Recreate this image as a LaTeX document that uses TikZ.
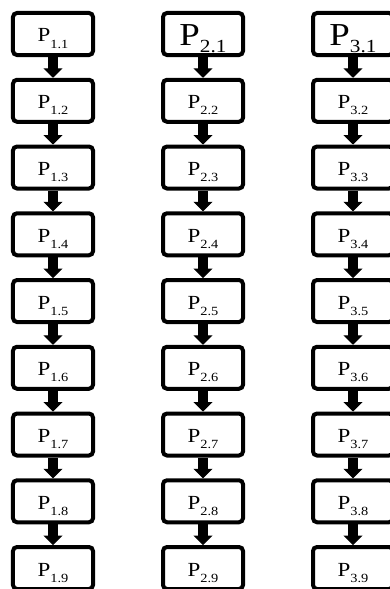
\documentclass[tikz,border=0pt]{standalone}
\usepackage{fontspec}
\setmainfont[FakeStretch=1.15]{Liberation Serif}
\usetikzlibrary{arrows.meta,positioning}
\newcommand{\psub}[1]{{\fontsize{12.5pt}{12.5pt}\selectfont\raisebox{-6pt}{#1}}}
\newcommand{\pbigsub}[1]{{\fontsize{18.5pt}{18.5pt}\selectfont\raisebox{-8pt}{#1}}}
\tikzset{
    %Define style for boxes
    pbox/.style={
      rectangle,
      rounded corners=4pt,
      draw=black, line width=4pt,
      minimum width=80pt,
      minimum height=42pt,
      inner sep=0pt,
      text height=22pt, text depth=6pt,
      font=\fontsize{20pt}{24pt}\selectfont},
    %Define style for the larger labels
    pbig/.style={
      text height=30pt, text depth=8pt,
      font=\fontsize{32pt}{36pt}\selectfont},
    % Define arrow style (tip at the start, edges go upwards)
    arr/.style={
      {Triangle[width=19pt,length=9.5pt,line width=1pt]}-,
      line width=10pt}
}
\begin{document}
\begin{tikzpicture}[node distance=20.75pt and 66pt]
    \useasboundingbox (-53pt,34pt) rectangle (336pt,-555pt);
    % first column
    \node[pbox] (p11) {P\psub{1.1}};
    \node[pbox, below=of p11] (p12) {P\psub{1.2}}
    edge[arr] (p11);
    \node[pbox, below=of p12] (p13) {P\psub{1.3}}
    edge[arr] (p12);
    \node[pbox, below=of p13] (p14) {P\psub{1.4}}
    edge[arr] (p13);
    \node[pbox, below=of p14] (p15) {P\psub{1.5}}
    edge[arr] (p14);
    \node[pbox, below=of p15] (p16) {P\psub{1.6}}
    edge[arr] (p15);
    \node[pbox, below=of p16] (p17) {P\psub{1.7}}
    edge[arr] (p16);
    \node[pbox, below=of p17] (p18) {P\psub{1.8}}
    edge[arr] (p17);
    \node[pbox, below=of p18] (p19) {P\psub{1.9}}
    edge[arr] (p18);
    % second column
    \node[pbox, pbig, right=of p11] (p21) {P\pbigsub{2.1}};
    \node[pbox, below=of p21] (p22) {P\psub{2.2}}
    edge[arr] (p21);
    \node[pbox, below=of p22] (p23) {P\psub{2.3}}
    edge[arr] (p22);
    \node[pbox, below=of p23] (p24) {P\psub{2.4}}
    edge[arr] (p23);
    \node[pbox, below=of p24] (p25) {P\psub{2.5}}
    edge[arr] (p24);
    \node[pbox, below=of p25] (p26) {P\psub{2.6}}
    edge[arr] (p25);
    \node[pbox, below=of p26] (p27) {P\psub{2.7}}
    edge[arr] (p26);
    \node[pbox, below=of p27] (p28) {P\psub{2.8}}
    edge[arr] (p27);
    \node[pbox, below=of p28] (p29) {P\psub{2.9}}
    edge[arr] (p28);
    % third column
    \node[pbox, pbig, right=of p21] (p31) {P\pbigsub{3.1}};
    \node[pbox, below=of p31] (p32) {P\psub{3.2}}
    edge[arr] (p31);
    \node[pbox, below=of p32] (p33) {P\psub{3.3}}
    edge[arr] (p32);
    \node[pbox, below=of p33] (p34) {P\psub{3.4}}
    edge[arr] (p33);
    \node[pbox, below=of p34] (p35) {P\psub{3.5}}
    edge[arr] (p34);
    \node[pbox, below=of p35] (p36) {P\psub{3.6}}
    edge[arr] (p35);
    \node[pbox, below=of p36] (p37) {P\psub{3.7}}
    edge[arr] (p36);
    \node[pbox, below=of p37] (p38) {P\psub{3.8}}
    edge[arr] (p37);
    \node[pbox, below=of p38] (p39) {P\psub{3.9}}
    edge[arr] (p38);
\end{tikzpicture}
\end{document}
